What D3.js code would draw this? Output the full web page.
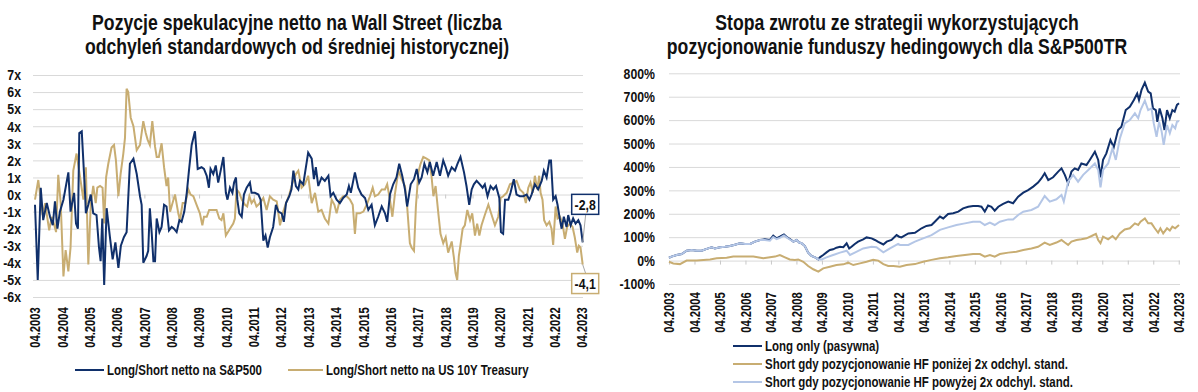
<!DOCTYPE html>
<html>
<head>
<meta charset="utf-8">
<script src="https://cdn.jsdelivr.net/npm/d3@7"></script>
<style>
  body { margin: 0; background: #fff; }
  text { font-family: "Liberation Sans", Arial, sans-serif; font-weight: bold; fill: #111; }
  .grid line { stroke: #d9d9d9; stroke-width: 1; }
  .zero line { stroke: #c8c8c8; }
</style>
</head>
<body>
<script>
// data (decimal year, value)
var years = d3.range(2003, 2024);

var leftTicks = [7, 6, 5, 4, 3, 2, 1, 0, -1, -2, -3, -4, -5, -6];
var rightTicks = [800, 700, 600, 500, 400, 300, 200, 100, 0, -100];

// Long/Short netto na S&P500 (std devs)
var spxNet = [
  [2003.25,-0.6],[2003.35,-5.0],[2003.46,0.4],[2003.55,-1.5],[2003.68,-0.5],[2003.80,-1.3],[2003.90,-1.8],[2003.98,-0.4],
  [2004.07,-2.0],[2004.16,-1.0],[2004.29,-0.3],[2004.47,1.3],[2004.55,-1.0],[2004.68,0.1],[2004.75,-1.7],[2004.82,-2.0],
  [2004.87,3.6],[2004.96,3.7],[2005.08,0.1],[2005.11,-1.1],[2005.20,-0.6],[2005.29,0.0],[2005.38,-1.1],[2005.50,-1.2],
  [2005.59,-3.1],[2005.65,-3.9],[2005.71,-1.4],[2005.78,-5.3],[2005.87,-0.8],[2005.99,-2.5],[2006.09,-3.8],[2006.19,-2.8],
  [2006.30,-4.3],[2006.39,-3.0],[2006.50,-2.5],[2006.60,-2.2],[2006.72,1.8],[2006.85,2.1],[2006.97,1.2],[2007.09,-0.1],
  [2007.15,-0.6],[2007.21,-4.0],[2007.33,-3.6],[2007.39,-3.3],[2007.45,-0.8],[2007.52,-2.3],[2007.58,-3.9],[2007.64,-3.9],
  [2007.70,-1.4],[2007.80,-2.2],[2007.88,-1.9],[2007.97,-0.6],[2008.06,-0.7],[2008.15,-2.1],[2008.25,-1.9],[2008.33,-2.0],
  [2008.43,-2.2],[2008.53,-1.5],[2008.61,-1.6],[2008.71,-1.0],[2008.80,0.1],[2008.88,1.4],[2008.98,2.9],[2009.10,3.7],
  [2009.20,1.5],[2009.34,1.6],[2009.43,1.5],[2009.53,1.1],[2009.61,0.4],[2009.67,1.5],[2009.77,1.2],[2009.86,1.7],
  [2009.95,0.7],[2010.04,1.4],[2010.14,2.2],[2010.23,0.1],[2010.29,-0.3],[2010.38,0.4],[2010.47,0.1],[2010.53,0.7],
  [2010.60,1.0],[2010.65,-0.3],[2010.72,-1.1],[2010.81,-1.3],[2010.89,0.0],[2010.99,0.4],[2011.11,0.7],[2011.17,0.1],
  [2011.29,0.1],[2011.42,0.0],[2011.50,-0.3],[2011.60,-2.7],[2011.68,-2.4],[2011.76,-3.1],[2011.84,-2.5],[2011.96,-1.9],
  [2012.06,-0.6],[2012.15,-1.0],[2012.27,-1.1],[2012.35,-1.6],[2012.43,-0.5],[2012.55,-0.1],[2012.63,0.3],[2012.70,1.4],
  [2012.79,0.5],[2012.88,0.3],[2012.94,0.8],[2013.06,0.6],[2013.24,2.45],[2013.37,2.1],[2013.45,0.9],[2013.52,1.6],
  [2013.61,0.5],[2013.73,1.0],[2013.85,0.8],[2013.98,1.1],[2014.06,-0.1],[2014.16,0.1],[2014.28,-0.3],[2014.40,-0.5],
  [2014.52,-0.2],[2014.65,0.0],[2014.73,0.5],[2014.80,0.1],[2014.95,1.3],[2015.07,0.4],[2015.19,0.0],[2015.32,-0.2],
  [2015.44,-0.9],[2015.56,-0.6],[2015.68,-1.8],[2015.80,-1.3],[2015.93,-0.7],[2016.05,-1.1],[2016.13,-1.6],[2016.23,0.0],
  [2016.35,0.6],[2016.47,1.0],[2016.57,1.8],[2016.68,1.1],[2016.78,0.3],[2016.86,-0.7],[2016.99,0.6],[2017.11,0.9],
  [2017.21,1.5],[2017.30,0.7],[2017.39,1.0],[2017.49,1.8],[2017.60,1.3],[2017.69,1.9],[2017.81,1.1],[2017.94,1.9],
  [2018.06,1.1],[2018.18,2.0],[2018.27,1.6],[2018.36,1.1],[2018.49,1.6],[2018.61,1.4],[2018.70,1.8],[2018.81,2.2],
  [2018.94,1.3],[2019.03,0.5],[2019.13,-0.6],[2019.22,0.3],[2019.30,0.6],[2019.40,0.8],[2019.52,0.6],[2019.62,0.4],
  [2019.70,0.6],[2019.80,-0.1],[2019.91,0.5],[2020.01,0.3],[2020.11,0.5],[2020.23,-0.2],[2020.29,-2.2],[2020.37,-2.3],
  [2020.44,-0.3],[2020.56,-0.3],[2020.64,0.1],[2020.76,0.9],[2020.86,0.0],[2020.98,-0.1],[2021.11,-0.1],[2021.23,0.0],
  [2021.33,-0.3],[2021.41,0.0],[2021.53,0.6],[2021.65,0.3],[2021.78,0.8],[2021.86,1.4],[2021.96,1.0],[2022.06,2.0],
  [2022.12,2.0],[2022.20,-0.3],[2022.29,-0.1],[2022.36,-0.6],[2022.45,-1.5],[2022.51,-2.0],[2022.59,-1.3],[2022.69,-1.9],
  [2022.75,-1.2],[2022.84,-1.8],[2022.93,-1.4],[2023.02,-1.7],[2023.12,-1.5],[2023.20,-1.8],[2023.28,-2.8]
];

// Long/Short netto na US 10Y Treasury (std devs)
var ust10Net = [
  [2003.25,-0.3],[2003.37,0.85],[2003.46,-0.3],[2003.53,-1.2],[2003.62,-0.5],[2003.77,-2.1],[2003.86,-1.3],[2003.94,-1.7],
  [2004.02,-2.2],[2004.10,1.15],[2004.19,-0.5],[2004.29,-4.8],[2004.37,-3.25],[2004.47,-4.5],[2004.55,-3.1],[2004.65,1.4],
  [2004.77,2.4],[2004.90,1.0],[2005.02,-0.3],[2005.11,1.6],[2005.20,-4.1],[2005.29,-0.6],[2005.38,0.5],[2005.47,-0.5],
  [2005.53,0.4],[2005.63,0.5],[2005.72,0.4],[2005.78,-1.7],[2005.85,1.0],[2005.93,1.8],[2006.05,2.75],[2006.14,2.9],
  [2006.21,2.0],[2006.30,-0.1],[2006.38,1.2],[2006.48,2.4],[2006.54,3.3],[2006.60,6.2],[2006.66,6.0],[2006.75,4.5],
  [2006.85,4.0],[2006.97,2.6],[2007.09,2.9],[2007.21,4.3],[2007.30,3.6],[2007.37,3.2],[2007.45,2.9],[2007.54,4.3],
  [2007.64,2.8],[2007.70,2.2],[2007.78,2.2],[2007.88,3.0],[2007.97,1.6],[2008.06,0.5],[2008.12,1.0],[2008.19,-1.0],
  [2008.28,-0.5],[2008.37,0.0],[2008.49,-1.1],[2008.55,-1.5],[2008.65,-0.5],[2008.75,-0.5],[2008.86,0.3],[2008.94,0.0],
  [2009.04,-0.1],[2009.16,-0.6],[2009.28,-1.1],[2009.37,-1.8],[2009.43,-1.3],[2009.53,-1.3],[2009.62,-0.9],[2009.89,-0.9],
  [2009.99,-1.4],[2010.07,-1.5],[2010.14,-1.1],[2010.23,-2.4],[2010.38,-2.0],[2010.50,-1.7],[2010.56,-1.4],[2010.62,0.3],
  [2010.72,0.1],[2010.81,-0.3],[2010.93,-0.6],[2011.01,-0.7],[2011.09,-0.1],[2011.17,-0.5],[2011.26,-0.3],[2011.35,-0.7],
  [2011.48,-0.5],[2011.60,-0.2],[2011.72,-0.9],[2011.84,-0.1],[2011.96,-0.3],[2012.09,-0.4],[2012.21,-1.8],[2012.31,-1.1],
  [2012.43,-0.5],[2012.55,0.0],[2012.67,0.7],[2012.79,1.2],[2012.88,1.4],[2013.00,0.4],[2013.12,0.6],[2013.24,1.1],
  [2013.37,-0.5],[2013.49,0.1],[2013.61,-1.0],[2013.73,-0.9],[2013.85,-1.4],[2013.98,-1.7],[2014.10,-0.3],[2014.20,-0.6],
  [2014.28,-1.1],[2014.40,-0.3],[2014.52,-0.1],[2014.65,-0.1],[2014.77,-0.3],[2014.87,-0.6],[2014.95,-2.3],[2015.01,-1.1],
  [2015.13,-1.1],[2015.26,-1.0],[2015.38,-0.6],[2015.50,-0.1],[2015.60,0.4],[2015.68,-0.1],[2015.80,0.0],[2015.93,0.3],
  [2016.05,0.3],[2016.13,0.6],[2016.23,-0.3],[2016.32,-1.3],[2016.41,0.0],[2016.54,1.4],[2016.66,0.9],[2016.78,0.5],
  [2016.86,-0.7],[2016.96,-2.85],[2017.02,-3.1],[2017.11,-3.3],[2017.18,-0.7],[2017.27,1.3],[2017.35,1.8],[2017.45,2.2],
  [2017.57,2.1],[2017.67,2.0],[2017.75,1.1],[2017.82,-0.1],[2017.90,0.5],[2018.00,-1.1],[2018.08,-2.3],[2018.18,-2.85],
  [2018.27,-2.5],[2018.36,-3.4],[2018.49,-2.75],[2018.57,-3.7],[2018.63,-4.6],[2018.69,-5.0],[2018.75,-3.6],[2018.81,-2.95],
  [2018.89,-2.0],[2018.97,-1.8],[2019.06,-0.9],[2019.16,-1.5],[2019.24,-1.1],[2019.34,-2.4],[2019.42,-1.7],[2019.50,-2.4],
  [2019.58,-1.8],[2019.70,-1.2],[2019.83,-0.6],[2019.95,-1.2],[2020.07,-1.8],[2020.19,-1.3],[2020.28,-0.2],[2020.37,-0.1],
  [2020.50,0.1],[2020.62,0.6],[2020.74,0.7],[2020.86,0.8],[2020.98,0.3],[2021.11,0.1],[2021.20,-0.5],[2021.29,0.4],
  [2021.37,0.7],[2021.45,0.1],[2021.53,1.1],[2021.62,0.3],[2021.69,1.1],[2021.74,0.1],[2021.81,-0.3],[2021.87,-1.5],
  [2021.96,-1.8],[2022.06,-1.6],[2022.14,-2.0],[2022.20,-2.95],[2022.29,-0.7],[2022.36,-1.4],[2022.45,-1.3],[2022.54,-1.7],
  [2022.63,-2.6],[2022.71,-1.9],[2022.81,-1.7],[2022.91,-1.9],[2022.99,-2.5],[2023.08,-3.4],[2023.14,-3.0],[2023.20,-3.1],
  [2023.28,-4.1]
];

// Stopa zwrotu (%) – Long only (pasywna)
var longOnly = [
  [2003.25,12],[2003.35,17],[2003.55,24],[2003.75,28],[2003.94,42],[2004.14,45],[2004.34,42],[2004.53,42],[2004.73,50],
  [2004.92,57],[2005.05,52],[2005.25,57],[2005.45,59],[2005.64,62],[2005.84,68],[2006.03,74],[2006.23,71],[2006.43,71],
  [2006.62,81],[2006.82,88],[2007.01,91],[2007.21,88],[2007.34,106],[2007.47,95],[2007.60,102],[2007.76,112],[2007.86,102],
  [2007.99,92],[2008.13,81],[2008.26,88],[2008.36,77],[2008.45,74],[2008.58,62],[2008.71,34],[2008.84,20],[2008.98,14],
  [2009.11,5],[2009.17,14],[2009.30,24],[2009.43,35],[2009.56,45],[2009.69,48],[2009.82,55],[2009.96,59],[2010.09,57],
  [2010.22,74],[2010.32,52],[2010.41,59],[2010.54,71],[2010.67,81],[2010.87,91],[2011.00,99],[2011.20,95],[2011.33,88],
  [2011.46,80],[2011.66,69],[2011.79,81],[2011.98,88],[2012.18,109],[2012.28,102],[2012.37,99],[2012.64,116],[2012.90,119],
  [2013.16,138],[2013.35,148],[2013.55,152],[2013.68,166],[2013.88,188],[2014.01,180],[2014.20,199],[2014.40,202],
  [2014.60,209],[2014.79,223],[2014.99,230],[2015.18,233],[2015.38,233],[2015.51,230],[2015.64,209],[2015.77,235],
  [2015.90,230],[2016.03,213],[2016.17,230],[2016.36,242],[2016.56,252],[2016.75,245],[2016.95,273],[2017.15,290],
  [2017.34,301],[2017.54,316],[2017.73,333],[2017.86,351],[2017.99,373],[2018.13,344],[2018.32,356],[2018.52,380],
  [2018.65,394],[2018.78,366],[2018.91,330],[2019.04,380],[2019.17,394],[2019.30,387],[2019.43,415],[2019.63,408],
  [2019.76,430],[2019.96,465],[2020.09,430],[2020.18,356],[2020.28,430],[2020.41,458],[2020.57,515],[2020.70,484],
  [2020.87,558],[2021.00,572],[2021.17,643],[2021.33,657],[2021.49,686],[2021.62,714],[2021.69,686],[2021.79,729],
  [2021.92,760],[2022.05,722],[2022.15,714],[2022.24,650],[2022.35,643],[2022.41,593],[2022.50,650],[2022.61,608],
  [2022.69,558],[2022.79,643],[2022.90,608],[2023.00,643],[2023.09,636],[2023.18,665],[2023.26,672]
];

// Short gdy pozycjonowanie HF poniżej 2x odchyl. stand. (%)
var shortBelow = [
  [2003.25,-5],[2003.42,-12],[2003.68,-15],[2003.94,0],[2004.34,0],[2004.60,3],[2004.86,5],[2005.12,10],[2005.51,12],
  [2005.77,17],[2006.16,17],[2006.56,17],[2006.95,10],[2007.21,14],[2007.41,17],[2007.60,24],[2007.80,14],[2007.99,5],
  [2008.19,3],[2008.32,5],[2008.52,-5],[2008.71,-23],[2008.91,-37],[2009.11,-47],[2009.30,-33],[2009.56,-26],[2009.82,-19],
  [2010.09,-16],[2010.28,-9],[2010.48,-19],[2010.74,-12],[2011.00,-5],[2011.26,3],[2011.46,0],[2011.66,-15],[2011.85,-23],
  [2012.05,-23],[2012.31,-26],[2012.57,-19],[2012.90,-15],[2013.22,-5],[2013.55,3],[2013.88,10],[2014.20,14],[2014.53,20],
  [2014.86,24],[2015.18,28],[2015.45,28],[2015.64,17],[2015.84,24],[2016.03,17],[2016.23,28],[2016.56,34],[2016.88,38],
  [2017.15,45],[2017.47,52],[2017.73,59],[2017.99,77],[2018.19,67],[2018.45,77],[2018.65,88],[2018.78,77],[2018.91,67],
  [2019.04,81],[2019.24,88],[2019.43,91],[2019.63,95],[2019.83,105],[2020.00,114],[2020.09,88],[2020.18,74],[2020.28,102],
  [2020.48,91],[2020.65,105],[2020.78,91],[2020.94,116],[2021.13,133],[2021.33,138],[2021.53,159],[2021.66,152],
  [2021.75,166],[2021.92,180],[2022.05,159],[2022.18,159],[2022.31,138],[2022.44,119],[2022.53,138],[2022.64,116],
  [2022.79,138],[2022.90,128],[2023.00,145],[2023.11,138],[2023.26,152]
];

// Short gdy pozycjonowanie HF powyżej 2x odchyl. stand. (%)
var shortAbove = [
  [2003.25,12],[2003.35,17],[2003.55,24],[2003.75,28],[2003.94,42],[2004.14,45],[2004.34,42],[2004.53,42],[2004.73,50],
  [2004.92,57],[2005.05,52],[2005.25,57],[2005.45,59],[2005.64,62],[2005.84,68],[2006.03,74],[2006.23,71],[2006.43,71],
  [2006.62,81],[2006.82,88],[2007.01,88],[2007.21,85],[2007.34,101],[2007.47,92],[2007.60,97],[2007.76,107],[2007.86,99],
  [2007.99,90],[2008.13,81],[2008.26,88],[2008.36,77],[2008.45,74],[2008.58,62],[2008.71,34],[2008.84,20],[2008.98,14],
  [2009.11,5],[2009.24,5],[2009.43,14],[2009.69,24],[2009.96,34],[2010.22,42],[2010.35,24],[2010.54,34],[2010.87,52],
  [2011.20,59],[2011.39,57],[2011.66,35],[2011.92,52],[2012.24,71],[2012.31,67],[2012.64,67],[2012.90,81],[2013.22,95],
  [2013.55,109],[2013.88,131],[2014.20,142],[2014.53,152],[2014.86,159],[2015.18,166],[2015.45,166],[2015.64,152],
  [2015.84,162],[2016.03,152],[2016.23,166],[2016.56,176],[2016.75,176],[2016.95,195],[2017.15,209],[2017.47,216],
  [2017.73,230],[2017.99,276],[2018.19,252],[2018.45,262],[2018.65,280],[2018.74,252],[2018.91,337],[2019.11,366],
  [2019.30,337],[2019.50,366],[2019.70,387],[2019.96,415],[2020.09,387],[2020.18,313],[2020.28,387],[2020.48,415],
  [2020.65,480],[2020.78,430],[2020.94,522],[2021.13,586],[2021.33,600],[2021.53,629],[2021.66,608],[2021.75,643],
  [2021.92,683],[2022.05,643],[2022.18,650],[2022.27,586],[2022.38,529],[2022.48,593],[2022.58,551],[2022.66,494],
  [2022.79,579],[2022.90,544],[2023.00,579],[2023.11,565],[2023.18,593],[2023.26,596]
];

var navy = "#10306b", gold = "#c8ad72", light = "#b4c6e6";
var narrow = 0.82;   // the original uses a condensed face

var svg = d3.select("body").append("svg")
    .attr("width", 1198)
    .attr("height", 392);

// text squeezed horizontally
function label(x, y, txt, size, anchor, sx) {
  return svg.append("text")
      .attr("transform", "translate(" + x + "," + y + ") scale(" + (sx || narrow) + ",1)")
      .attr("text-anchor", anchor || "start")
      .style("font-size", size + "px")
      .text(txt);
}

function yAxis(scale, left, width, ticks, fmt, pad) {
  svg.append("g").attr("class", "grid")
      .attr("transform", "translate(" + left + ",0)")
      .call(d3.axisLeft(scale).tickValues(ticks).tickSize(-width).tickPadding(0).tickFormat(fmt))
      .call(function(g) { g.select(".domain").remove(); })
      .selectAll("text")
        .attr("x", 0)
        .attr("transform", "translate(" + (-pad) + ",0) scale(" + narrow + ",1)")
        .style("font-size", "15px");
}

function xAxis(scale, yBottom, yZero) {
  var tv = years.map(function(y) { return y + 0.25; });
  svg.append("g").attr("class", "zero")
      .attr("transform", "translate(0," + yZero + ")")
      .call(d3.axisBottom(scale).tickValues(tv).tickSize(4).tickFormat(""))
      .call(function(g) { g.select(".domain").remove(); });
  svg.append("g")
      .attr("transform", "translate(0," + yBottom + ")")
      .call(d3.axisBottom(scale).tickValues(tv).tickSize(0)
          .tickFormat(function(d) { return "04." + Math.floor(d); }))
      .call(function(g) { g.select(".domain").remove(); })
      .selectAll("text")
        .attr("transform", "rotate(-90) scale(0.8,1)")
        .attr("text-anchor", "end")
        .attr("x", -10.5).attr("y", 0).attr("dy", "0.35em")
        .style("font-size", "14px");
}

/* ---------- left chart ---------- */
var xL = d3.scaleLinear().domain([2003.25, 2023.28]).range([35, 582.7]);
var yL = d3.scaleLinear().domain([-6, 7]).range([297, 75]);

yAxis(yL, 33, 550, leftTicks, function(d) { return d + "x"; }, 12);
xAxis(xL, yL(-6) + 2, yL(0));

var lineL = d3.line().x(function(d) { return xL(d[0]); }).y(function(d) { return yL(d[1]); });

svg.append("path").datum(ust10Net).attr("d", lineL)
    .attr("fill", "none").attr("stroke", gold).attr("stroke-width", 2);
svg.append("path").datum(spxNet).attr("d", lineL)
    .attr("fill", "none").attr("stroke", navy).attr("stroke-width", 2);

// end value labels
function endLabel(series, color, dy) {
  var last = series[series.length - 1];
  var px = xL(last[0]), py = yL(last[1]);
  var bx = px - 11, by = py + dy, bw = 27, bh = 20;
  svg.append("line")
      .attr("x1", px).attr("y1", py)
      .attr("x2", px + 3).attr("y2", dy < 0 ? by + bh : by)
      .attr("stroke", "#a6a6a6").attr("stroke-width", 1);
  svg.append("rect")
      .attr("x", bx).attr("y", by).attr("width", bw).attr("height", bh)
      .attr("fill", "#fff").attr("stroke", color).attr("stroke-width", 1.5);
  label(bx + bw / 2, by + bh / 2 + 5.5, String(last[1]).replace(".", ","), 15, "middle");
}
endLabel(spxNet, navy, -48);
endLabel(ust10Net, gold, 9);

/* ---------- right chart ---------- */
var xR = d3.scaleLinear().domain([2003.25, 2023.26]).range([669, 1179]);
var yR = d3.scaleLinear().domain([-100, 800]).range([284, 73.3]);

yAxis(yR, 669, 511, rightTicks, function(d) { return d + "%"; }, 14);
xAxis(xR, yR(-100), yR(0));

var lineR = d3.line().x(function(d) { return xR(d[0]); }).y(function(d) { return yR(d[1]); });

svg.append("path").datum(longOnly).attr("d", lineR)
    .attr("fill", "none").attr("stroke", navy).attr("stroke-width", 2);
svg.append("path").datum(shortBelow).attr("d", lineR)
    .attr("fill", "none").attr("stroke", gold).attr("stroke-width", 2);
svg.append("path").datum(shortAbove).attr("d", lineR)
    .attr("fill", "none").attr("stroke", light).attr("stroke-width", 2);

/* ---------- titles ---------- */
label(297, 30, "Pozycje spekulacyjne netto na Wall Street (liczba", 21.5, "middle");
label(297, 54, "odchyleń standardowych od średniej historycznej)", 21.5, "middle");
label(897, 30, "Stopa zwrotu ze strategii wykorzystujących", 21.5, "middle");
label(897, 54, "pozycjonowanie funduszy hedingowych dla S&P500TR", 21.5, "middle");

/* ---------- legends ---------- */
function legendItem(x, y, len, color, txt) {
  svg.append("line").attr("x1", x).attr("x2", x + len).attr("y1", y).attr("y2", y)
      .attr("stroke", color).attr("stroke-width", 2);
  label(x + len + 3, y + 5, txt, 14);
}
legendItem(75, 370, 29, navy, "Long/Short netto na S&P500");
legendItem(288, 370, 35, gold, "Long/Short netto na US 10Y Treasury");

legendItem(733, 346, 29, navy, "Long only (pasywna)");
legendItem(733, 364, 29, gold, "Short gdy pozycjonowanie HF poniżej 2x odchyl. stand.");
legendItem(733, 382, 29, light, "Short gdy pozycjonowanie HF powyżej 2x odchyl. stand.");
</script>
</body>
</html>
